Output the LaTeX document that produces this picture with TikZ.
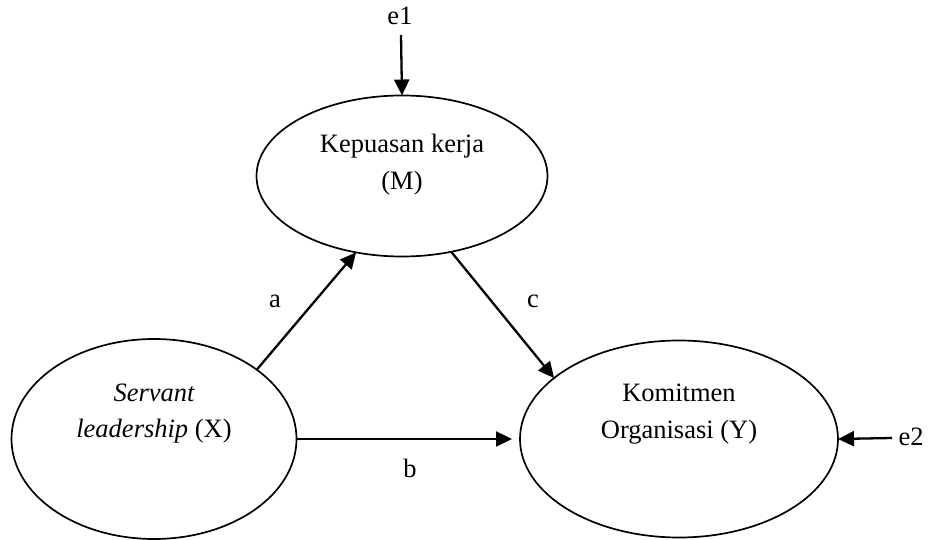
\documentclass[tikz,border=0pt]{standalone}
\usepackage{fontspec}
\setmainfont{Liberation Serif}
\usetikzlibrary{shapes.geometric,arrows.meta}
\begin{document}
\begin{tikzpicture}[x=1pt,y=-1pt,
  ell/.style={draw, ellipse, line width=1.7pt, inner sep=0pt, outer sep=0pt},
  txt/.style={anchor=base, inner sep=0pt, font=\fontsize{26.5}{36}\selectfont},
  arr/.style={line width=2.3pt, -{Triangle[length=16pt,width=15pt]}}]
\useasboundingbox (0,0) rectangle (930,540);
% ellipses
\node[ell, minimum width=291pt, minimum height=161pt] (M) at (402,176) {};
\node[ell, minimum width=285pt, minimum height=200pt] (X) at (154,439) {};
\node[ell, minimum width=318pt, minimum height=197pt] (Y) at (679,439) {};
% texts
\node[txt] (m1) at (402,153) {Kepuasan kerja};
\node[txt] (m2) at (402,190) {(M)};
\node[txt] (x1) at (154,402) {\itshape Servant};
\node[txt] (x2) at (154,437) {\textit{leadership} (X)};
\node[txt] (y1) at (679,402) {Komitmen};
\node[txt] (y2) at (679,438) {Organisasi (Y)};
% error terms
\node[txt] (e1) at (400,25) {e1};
\node[txt] (e2) at (911,445) {e2};
\coordinate (e1s) at (401,35);
\coordinate (e2s) at (892,438);
% path labels
\node[txt] (la) at (275,308) {a};
\node[txt] (lc) at (533,308) {c};
\node[txt] (lb) at (410,477) {b};
% arrows
\draw[arr] (X.34.6) -- (M.239.7);
\draw[arr] (M.303.5) -- (Y.154.3);
\draw[arr, shorten >=8pt] (X.east) -- (Y.west);
\draw[arr] (e1s) -- (M.north);
\draw[arr] (e2s) -- (Y.east);
\end{tikzpicture}
\end{document}
